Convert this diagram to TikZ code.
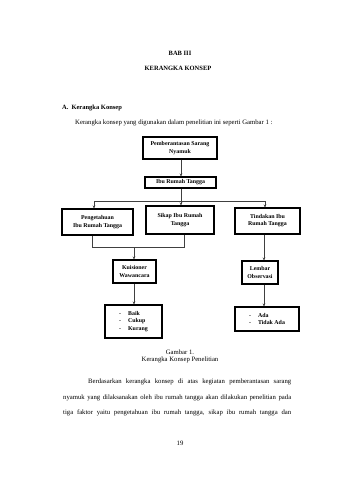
\documentclass[tikz,border=0pt]{standalone}
\usepackage{fontspec}
\setmainfont{Liberation Serif}
\usetikzlibrary{arrows.meta}
\begin{document}
\begin{tikzpicture}[x=1pt,y=-1pt,
  txt/.style={inner sep=0pt,font=\fontsize{6.7}{8}\selectfont},
  hd/.style={txt,font=\fontsize{6.5}{8}\selectfont\bfseries},
  bx/.style={draw,line width=1.1pt,inner sep=0pt,align=center,
    font=\fontsize{5.9}{7.2}\selectfont\bfseries},
  con/.style={draw=black!75,line width=0.5pt},
  arr/.style={con,-{Stealth[length=3pt,width=2.6pt]}}]
\useasboundingbox (0,0) rectangle (339,480);
% headings
\node[hd] (bab) at (180,53) {BAB III};
\node[hd] (kk) at (178,68) {KERANGKA KONSEP};
\node[hd,anchor=west] (sa) at (62,108) {A.\hspace{3pt}Kerangka Konsep};
\node[txt,anchor=west] (intro) at (75,123) {Kerangka konsep yang digunakan dalam penelitian ini seperti Gambar 1 :};
% boxes
\node[bx,minimum width=74pt,minimum height=22pt] (b1) at (180,148) {Pemberantasan Sarang\\Nyamuk};
\node[bx,minimum width=71pt,minimum height=11pt] (b2) at (180.5,182.5) {Ibu Rumah Tangga};
\node[bx,minimum width=71pt,minimum height=26pt] (b3) at (97.5,222) {Pengetahuan\\Ibu Rumah Tangga};
\node[bx,minimum width=68pt,minimum height=28pt] (b4) at (180,220) {Sikap Ibu Rumah\\Tangga};
\node[bx,minimum width=65pt,minimum height=26pt] (b5) at (267.5,221) {Tindakan Ibu\\Rumah Tangga};
\node[bx,minimum width=43pt,minimum height=23pt] (b6) at (134.5,271.5) {Kuisioner\\Wawancara};
\node[bx,minimum width=57pt,minimum height=33pt,align=left] (b7) at (133.5,321.5)
  {-\hspace{7pt}Baik\\-\hspace{7pt}Cukup\\-\hspace{7pt}Kurang};
\node[bx,minimum width=36pt,minimum height=23pt] (b8) at (260,272.5) {Lembar\\Observasi};
\node[bx,minimum width=64pt,minimum height=24pt,align=left] (b9) at (267,319)
  {-\hspace{7pt}Ada\\-\hspace{7pt}Tidak Ada};
% connectors
\coordinate (h1) at (94,201);
\coordinate (h2) at (181,201);
\coordinate (h3) at (265,201);
\coordinate (j1) at (92,247);
\coordinate (j2) at (134,247);
\coordinate (j3) at (184,247);
\draw[arr] (b1.south -| h2) -- (b2.north -| h2);
\draw[con] (b2.south -| h2) -- (h2);
\draw[con] (h1) -- (h3);
\draw[arr] (h1) -- (b3.north -| h1);
\draw[arr] (h2) -- (b4.north -| h2);
\draw[arr] (h3) -- (b5.north -| h3);
\draw[con] (b3.south -| j1) -- (j1) -- (j3) -- (b4.south -| j3);
\draw[arr] (j2) -- (b6.north -| j2);
\draw[arr] (b6.south -| j2) -- (b7.north -| j2);
\draw[arr] (b5.south -| 264,0) -- (b8.north -| 264,0);
\draw[arr] (b8.south -| 264,0) -- (b9.north -| 264,0);
% caption
\node[txt] (cap1) at (180,352) {Gambar 1.};
\node[txt] (cap2) at (180,359.5) {Kerangka Konsep Penelitian};
% paragraph
\node[txt,anchor=west] (p1) at (88,382) {\makebox[203pt][s]{Berdasarkan kerangka konsep di atas kegiatan pemberantasan sarang}};
\node[txt,anchor=west] (p2) at (63,398) {\makebox[228pt][s]{nyamuk yang dilaksanakan oleh ibu rumah tangga akan dilakukan penelitian pada}};
\node[txt,anchor=west] (p3) at (63,413) {\makebox[228pt][s]{tiga faktor yaitu pengetahuan ibu rumah tangga, sikap ibu rumah tangga dan}};
\node[txt] (pg) at (180,443) {19};
\end{tikzpicture}
\end{document}
